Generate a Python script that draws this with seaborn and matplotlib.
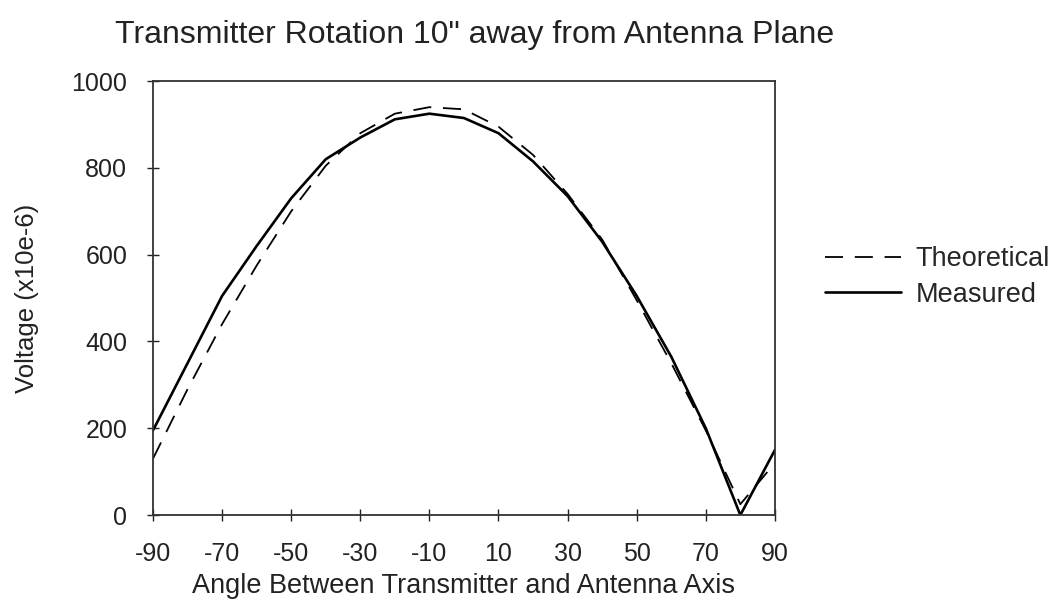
"""Transmitter rotation: theoretical vs measured voltage."""

import matplotlib

matplotlib.use("Agg")
import matplotlib.pyplot as plt
import seaborn as sns

angles = [-90, -80, -70, -60, -50, -40, -30, -20, -10, 0, 10, 20, 30, 40, 50, 60, 70, 80, 90]
theoretical = [130, 290, 440, 575, 700, 805, 880, 925, 940, 935, 895, 830, 740, 635, 495, 350, 195, 25, 120]
measured = [195, 350, 505, 620, 730, 820, 870, 912, 925, 915, 880, 815, 735, 630, 505, 365, 200, 0, 150]
x_ticks = list(range(-90, 91, 20))
y_ticks = list(range(0, 1001, 200))

sns.set_style("ticks")
plt.rcParams["font.family"] = ["Liberation Sans", "DejaVu Sans"]
plt.rcParams["axes.unicode_minus"] = False

fig = plt.figure(figsize=(10.5, 6.01), dpi=100)
ax = fig.add_axes([0.1457, 0.143, 0.5923, 0.722])

sns.lineplot(x=angles, y=theoretical, ax=ax, color="black", linewidth=1.3,
             linestyle=(0, (10, 6.5)), label="Theoretical")
sns.lineplot(x=angles, y=measured, ax=ax, color="black", linewidth=1.9,
             label="Measured")

ax.set_xlim(-90, 90)
ax.set_ylim(0, 1000)
ax.set_xticks(x_ticks)
ax.set_yticks(y_ticks)
ax.tick_params(direction="inout", length=9, width=1, labelsize=18,
               colors="#222222")
ax.tick_params(axis="x", pad=15)
ax.tick_params(axis="y", pad=14)
for s in ax.spines.values():
    s.set_visible(True)
    s.set_color("#333333")
    s.set_linewidth(1.3)

ax.set_xlabel("Angle Between Transmitter and Antenna Axis", fontsize=19.5,
              labelpad=5, color="#222222")
ax.set_ylabel("Voltage (x10e-6)", fontsize=18.5, labelpad=23, color="#222222")
fig.text(0.452, 0.942, "Transmitter Rotation 10\" away from Antenna Plane",
         fontsize=23, ha="center", va="center", color="#222222")

ax.legend(loc="center left", bbox_to_anchor=(825 / 1050, 0.539),
          bbox_transform=fig.transFigure, frameon=False, borderaxespad=0,
          borderpad=0, fontsize=19.5, handlelength=2.8, handletextpad=0.55,
          labelspacing=0.35)

fig.savefig("out.png", dpi=100)
